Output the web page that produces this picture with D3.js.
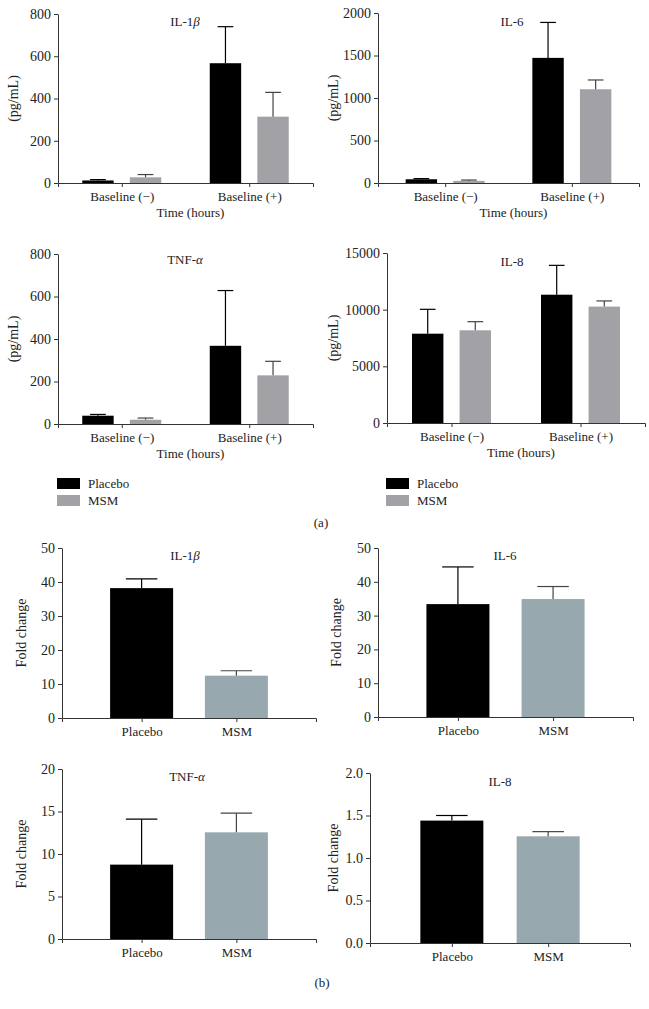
<!DOCTYPE html>
<html>
<head>
<meta charset="utf-8">
<script src="https://cdn.jsdelivr.net/npm/d3@7"></script>
<style>
  body { margin: 0; background: #fff; }
  svg { display: block; }
  svg text { font-family: "Liberation Serif", "DejaVu Serif", serif; fill: #222; }
  .domain, .tick line { stroke: #333; }
  .tick text { font-size: 13px; }
  .yax .tick text { font-size: 14px; }
</style>
</head>
<body>
<svg id="chart" width="649" height="1009"></svg>
<script>
// data
const groups = ["Baseline (\u2212)", "Baseline (+)"];
const series = ["Placebo", "MSM"];

const il1bPlacebo = [12, 567], il1bPlaceboErr = [4, 173];
const il1bMsm = [27, 314], il1bMsmErr = [13, 115];
const il6Placebo = [44, 1472], il6PlaceboErr = [8, 417];
const il6Msm = [25, 1103], il6MsmErr = [10, 109];
const tnfPlacebo = [39, 368], tnfPlaceboErr = [6, 260];
const tnfMsm = [20, 229], tnfMsmErr = [8, 66];
const il8Placebo = [7880, 11320], il8PlaceboErr = [2150, 2590];
const il8Msm = [8180, 10270], il8MsmErr = [760, 500];

const foldGroups = ["Placebo", "MSM"];
const il1bFold = [38.2, 12.45], il1bFoldErr = [2.7, 1.45];
const il6Fold = [33.4, 34.9], il6FoldErr = [11.0, 3.7];
const tnfFold = [8.75, 12.55], tnfFoldErr = [5.35, 2.25];
const il8Fold = [1.44, 1.255], il8FoldErr = [0.06, 0.055];

const colors = { Placebo: "#000", MSM: "#a2a2a6" };
const foldColors = { Placebo: "#000", MSM: "#97a9af" };

const svg = d3.select("#chart");

// grouped panels (a)
function groupedPanel(o) {
  const g = svg.append("g");
  const y = d3.scaleLinear().domain([0, o.max]).range([o.bottom, o.top]);
  const x = d3.scalePoint().domain(groups).range([o.left, o.right]).padding(o.pad);
  const sub = d3.scaleBand().domain(series).range([-39.5, 39.5]).paddingInner(0.34);

  const rows = [];
  groups.forEach((grp, i) => {
    rows.push({ grp, s: "Placebo", v: o.p[i], e: o.pe[i] });
    rows.push({ grp, s: "MSM", v: o.m[i], e: o.me[i] });
  });

  const bar = g.selectAll(".bar").data(rows).enter().append("g");
  bar.append("rect")
    .attr("x", d => x(d.grp) + sub(d.s))
    .attr("width", sub.bandwidth())
    .attr("y", d => y(d.v))
    .attr("height", d => y(0) - y(d.v))
    .attr("fill", d => colors[d.s]);
  const ebColor = d => d.s === "MSM" ? "#444" : "#000";
  bar.append("line")
    .attr("x1", d => x(d.grp) + sub(d.s) + sub.bandwidth() / 2)
    .attr("x2", d => x(d.grp) + sub(d.s) + sub.bandwidth() / 2)
    .attr("y1", d => y(d.v)).attr("y2", d => y(d.v + d.e))
    .attr("stroke", ebColor).attr("stroke-width", 1.2);
  bar.append("line")
    .attr("x1", d => x(d.grp) + sub(d.s) + sub.bandwidth() / 4)
    .attr("x2", d => x(d.grp) + sub(d.s) + sub.bandwidth() * 3 / 4)
    .attr("y1", d => y(d.v + d.e)).attr("y2", d => y(d.v + d.e))
    .attr("stroke", ebColor).attr("stroke-width", 1.2);

  g.append("g").attr("class", "yax").attr("transform", `translate(${o.left},0)`)
    .call(d3.axisLeft(y).tickValues(o.ticks).tickFormat(d3.format("d"))
      .tickSize(4).tickSizeOuter(0).tickPadding(3));
  g.append("g").attr("transform", `translate(0,${o.bottom})`)
    .call(d3.axisBottom(x).tickSize(4).tickPadding(5));

  g.append("text").attr("x", o.tx).attr("y", o.ty).attr("text-anchor", "middle")
    .attr("font-size", "13px").html(o.title);
  g.append("text").attr("transform", `translate(${o.lx},${(o.top + o.bottom) / 2}) rotate(-90)`)
    .attr("text-anchor", "middle").attr("font-size", "14px").text("(pg/mL)");
  g.append("text").attr("x", (o.left + o.right) / 2 + 5).attr("y", o.bottom + 34)
    .attr("text-anchor", "middle").attr("font-size", "13px").text("Time (hours)");
}

// two-bar panels (b)
function foldPanel(o) {
  const g = svg.append("g");
  const y = d3.scaleLinear().domain([0, o.max]).range([o.bottom, o.top]);
  const x = d3.scalePoint().domain(foldGroups).range([o.left, o.right]).padding(o.pad);
  const bw = 63;
  const rows = foldGroups.map((s, i) => ({ s, v: o.v[i], e: o.e[i] }));

  const bar = g.selectAll(".bar").data(rows).enter().append("g");
  bar.append("rect")
    .attr("x", d => x(d.s) - bw / 2).attr("width", bw)
    .attr("y", d => y(d.v)).attr("height", d => y(0) - y(d.v))
    .attr("fill", d => foldColors[d.s]);
  bar.append("line")
    .attr("x1", d => x(d.s)).attr("x2", d => x(d.s))
    .attr("y1", d => y(d.v)).attr("y2", d => y(d.v + d.e))
    .attr("stroke", d => d.s === "MSM" ? "#444" : "#000").attr("stroke-width", 1.2);
  bar.append("line")
    .attr("x1", d => x(d.s) - bw / 4).attr("x2", d => x(d.s) + bw / 4)
    .attr("y1", d => y(d.v + d.e)).attr("y2", d => y(d.v + d.e))
    .attr("stroke", d => d.s === "MSM" ? "#444" : "#000").attr("stroke-width", 1.2);

  g.append("g").attr("class", "yax").attr("transform", `translate(${o.left},0)`)
    .call(d3.axisLeft(y).tickValues(o.ticks).tickFormat(d3.format(o.fmt))
      .tickSize(4).tickSizeOuter(0).tickPadding(3));
  g.append("g").attr("transform", `translate(0,${o.bottom})`)
    .call(d3.axisBottom(x).tickSize(4).tickPadding(5));

  g.append("text").attr("x", o.tx).attr("y", o.ty).attr("text-anchor", "middle")
    .attr("font-size", "13px").html(o.title);
  g.append("text").attr("transform", `translate(${o.lx},${(o.top + o.bottom) / 2}) rotate(-90)`)
    .attr("text-anchor", "middle").attr("font-size", "14px").text("Fold change");
}

const beta = 'IL-1<tspan font-style="italic">\u03b2</tspan>';
const alpha = 'TNF-<tspan font-style="italic">\u03b1</tspan>';

groupedPanel({ left: 58, right: 313, top: 14, bottom: 183, pad: 0.5, max: 800, ticks: [0, 200, 400, 600, 800],
  p: il1bPlacebo, pe: il1bPlaceboErr, m: il1bMsm, me: il1bMsmErr, title: beta, tx: 185, ty: 26, lx: 18 });
groupedPanel({ left: 378, right: 639, top: 13, bottom: 183, pad: 0.53, max: 2000, ticks: [0, 500, 1000, 1500, 2000],
  p: il6Placebo, pe: il6PlaceboErr, m: il6Msm, me: il6MsmErr, title: "IL-6", tx: 512, ty: 26, lx: 338 });
groupedPanel({ left: 58, right: 313, top: 254, bottom: 424, pad: 0.5, max: 800, ticks: [0, 200, 400, 600, 800],
  p: tnfPlacebo, pe: tnfPlaceboErr, m: tnfMsm, me: tnfMsmErr, title: alpha, tx: 185, ty: 264, lx: 18 });
groupedPanel({ left: 387, right: 645, top: 253, bottom: 423, pad: 0.5, max: 15000, ticks: [0, 5000, 10000, 15000],
  p: il8Placebo, pe: il8PlaceboErr, m: il8Msm, me: il8MsmErr, title: "IL-8", tx: 512, ty: 266, lx: 338 });

// legends
[57, 386].forEach(lx => {
  const lg = svg.append("g");
  series.forEach((s, i) => {
    lg.append("rect").attr("x", lx).attr("y", 478 + i * 17).attr("width", 23).attr("height", 11).attr("fill", colors[s]);
    lg.append("text").attr("x", lx + 31).attr("y", 488 + i * 17).attr("font-size", "13px").text(s);
  });
});

svg.append("text").attr("x", 321).attr("y", 527).attr("text-anchor", "middle").attr("font-size", "13px").text("(a)");

foldPanel({ left: 62, right: 316, top: 548, bottom: 718, pad: 0.84, max: 50, ticks: [0, 10, 20, 30, 40, 50], fmt: "d",
  v: il1bFold, e: il1bFoldErr, title: beta, tx: 185, ty: 560, lx: 26 });
foldPanel({ left: 378, right: 633, top: 548, bottom: 717, pad: 0.84, max: 50, ticks: [0, 10, 20, 30, 40, 50], fmt: "d",
  v: il6Fold, e: il6FoldErr, title: "IL-6", tx: 505, ty: 560, lx: 341 });
foldPanel({ left: 62, right: 316, top: 769, bottom: 939, pad: 0.84, max: 20, ticks: [0, 5, 10, 15, 20], fmt: "d",
  v: tnfFold, e: tnfFoldErr, title: alpha, tx: 187, ty: 781, lx: 26 });
foldPanel({ left: 370, right: 630, top: 773, bottom: 943, pad: 0.85, max: 2, ticks: [0, 0.5, 1, 1.5, 2], fmt: ".1f",
  v: il8Fold, e: il8FoldErr, title: "IL-8", tx: 500, ty: 786, lx: 338 });

svg.append("text").attr("x", 322).attr("y", 987).attr("text-anchor", "middle").attr("font-size", "13px").text("(b)");
</script>
</body>
</html>
